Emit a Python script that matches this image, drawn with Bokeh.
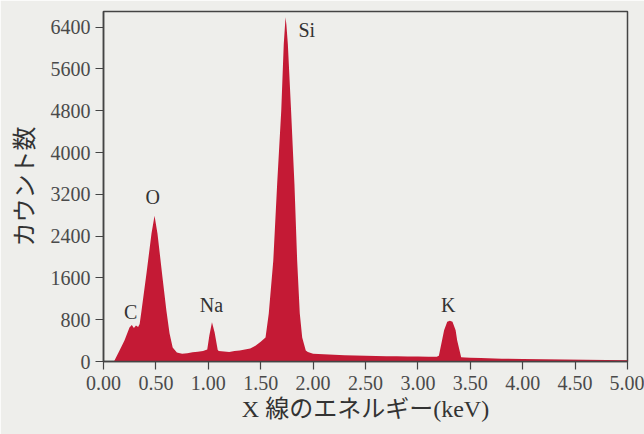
from bokeh.plotting import figure
from bokeh.models import Range1d, FixedTicker, NumeralTickFormatter
from bokeh.embed import file_html
from bokeh.resources import INLINE
from bokeh.core.properties import value

# X-ray energy (keV) and counts
energy = [0.00, 0.10, 0.153, 0.20, 0.248, 0.27, 0.29, 0.31, 0.33, 0.345, 0.363, 0.41, 0.458, 0.487,
          0.515, 0.563, 0.60, 0.63, 0.66, 0.70, 0.75, 0.80, 0.85, 0.90, 0.95,
          0.99, 1.01, 1.035, 1.06, 1.09, 1.10, 1.15, 1.20, 1.25, 1.30, 1.35, 1.40, 1.45, 1.50,
          1.546, 1.577, 1.62, 1.657, 1.696, 1.72, 1.737, 1.745, 1.759, 1.79, 1.822, 1.848, 1.873, 1.896, 1.93,
          1.95, 2.00, 2.10, 2.20, 2.30, 2.40, 2.50, 2.60, 2.70, 2.80, 2.90, 3.00, 3.10, 3.18,
          3.20, 3.23, 3.25, 3.28, 3.305, 3.33, 3.36, 3.375, 3.413,
          3.45, 3.50, 3.60, 3.80, 4.00, 4.20, 4.40, 4.60, 4.80, 5.00]
counts = [0, 0, 210, 400, 650, 700, 640, 690, 660, 720, 975, 1685, 2450, 2790,
          2450, 1610, 975, 540, 270, 170, 150, 160, 175, 185, 200,
          230, 500, 750, 560, 220, 200, 190, 180, 200, 210, 230, 250, 300, 380,
          460, 920, 1930, 3400, 4800, 6080, 6590, 6450, 6080, 4800, 3400, 1930, 920, 460, 210,
          180, 150, 140, 130, 120, 115, 110, 105, 100, 100, 95, 95, 90, 90,
          110, 400, 600, 760, 780, 760, 600, 400, 80,
          75, 70, 65, 55, 50, 45, 40, 35, 30, 25]

peak_labels = ["C", "O", "Na", "Si", "K"]
label_x = [0.26, 0.47, 1.03, 1.94, 3.29]
label_y = [940, 3150, 1080, 6350, 1080]

x_ticks = [0.0, 0.5, 1.0, 1.5, 2.0, 2.5, 3.0, 3.5, 4.0, 4.5, 5.0]
y_ticks = [0, 800, 1600, 2400, 3200, 4000, 4800, 5600, 6400]

serif = "'Liberation Serif', 'Noto Sans CJK JP'"
bg = "#eeeeeb"

p = figure(width=644, height=434, output_backend="svg", toolbar_location=None,
           x_range=Range1d(0, 5), y_range=Range1d(0, 6700),
           min_border_left=103, min_border_right=17, min_border_top=11, min_border_bottom=73)
p.background_fill_color = bg
p.border_fill_color = bg
p.outline_line_color = "#444444"
p.outline_line_width = 1.5
p.xgrid.visible = False
p.ygrid.visible = False

p.varea(x=energy, y1=0, y2=counts, fill_color="#c41a35")

p.text(x=label_x, y=label_y, text=peak_labels, text_font=value(serif), text_font_size="20px",
       text_color="#333333", text_align="center", text_baseline="middle")

for ax in (p.xaxis[0], p.yaxis[0]):
    ax.axis_line_color = "#444444"
    ax.axis_line_width = 1.5
    ax.major_tick_line_color = "#444444"
    ax.major_tick_line_width = 1.2
    ax.major_tick_out = 8
    ax.major_tick_in = 0
    ax.minor_tick_line_color = None
    ax.major_label_text_font = serif
    ax.major_label_text_font_size = "20px"
    ax.major_label_text_color = "#4a4a4a"
    ax.axis_label_text_font = serif
    ax.axis_label_text_font_style = "normal"
    ax.axis_label_text_color = "#333333"

p.xaxis.ticker = FixedTicker(ticks=x_ticks)
p.xaxis.formatter = NumeralTickFormatter(format="0.00")
p.yaxis.ticker = FixedTicker(ticks=y_ticks)
p.xaxis.major_label_standoff = 6
p.yaxis.major_label_standoff = 5
p.xaxis.axis_label = "X 線のエネルギー(keV)"
p.yaxis.axis_label = "カウント数"
p.xaxis.axis_label_text_font_size = "24px"
p.yaxis.axis_label_text_font_size = "24px"
p.xaxis.axis_label_standoff = 3
p.yaxis.axis_label_standoff = 10

open("out.html", "w").write(file_html(p, INLINE))
